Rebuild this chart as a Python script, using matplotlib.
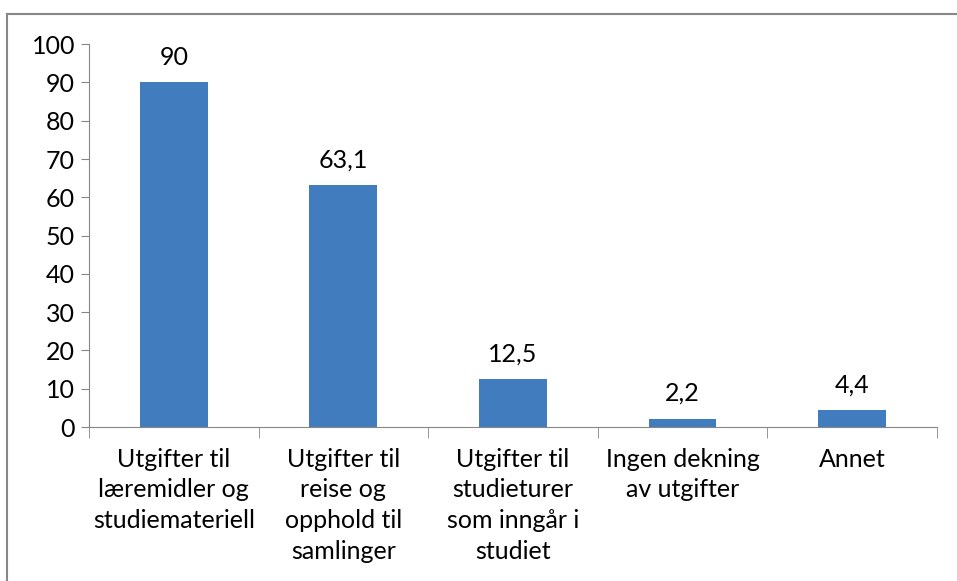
import matplotlib.pyplot as plt
from matplotlib.lines import Line2D
import numpy as np

# data
categories = ["Utgifter til\nlæremidler og\nstudiemateriell",
              "Utgifter til\nreise og\nopphold til\nsamlinger",
              "Utgifter til\nstudieturer\nsom inngår i\nstudiet",
              "Ingen dekning\nav utgifter",
              "Annet"]
values = [90, 63.1, 12.5, 2.2, 4.4]
value_labels = ["90", "63,1", "12,5", "2,2", "4,4"]
yticks = list(range(0, 101, 10))

plt.rcParams['font.family'] = ['Lato', 'DejaVu Sans']
fs = 18

fig = plt.figure(figsize=(9.57, 5.81), dpi=100)
ax = fig.add_axes([0.093, 0.265, 0.886, 0.659])

x = np.arange(len(categories))
bars = ax.bar(x, values, width=0.4, color='#417DBE')
for b, lab in zip(bars, value_labels):
    ax.annotate(lab, (b.get_x() + b.get_width() / 2, b.get_height()),
                xytext=(0, 10), textcoords='offset points',
                ha='center', va='bottom', fontsize=fs)

ax.set_xlim(-0.5, len(categories) - 0.5)
ax.set_ylim(0, 100)
ax.set_yticks(yticks)
ax.tick_params(axis='y', labelsize=fs, length=6, color='#868686', pad=4)

ax.set_xticks(x)
ax.set_xticklabels(categories, fontsize=fs, linespacing=1.4)
ax.tick_params(axis='x', which='major', length=0, pad=15)
ax.set_xticks(np.arange(-0.5, len(categories)), minor=True)
ax.tick_params(axis='x', which='minor', length=8, color='#868686')

for s in ['top', 'right']:
    ax.spines[s].set_visible(False)
for s in ['left', 'bottom']:
    ax.spines[s].set_color('#868686')

# chart border (only top and left visible in the crop)
fig.add_artist(Line2D([7 / 957, 1], [1 - 14 / 581] * 2, color='#878787', lw=1.5))
fig.add_artist(Line2D([7 / 957] * 2, [0, 1 - 14 / 581], color='#878787', lw=1.5))

fig.savefig('out.png', dpi=100)
